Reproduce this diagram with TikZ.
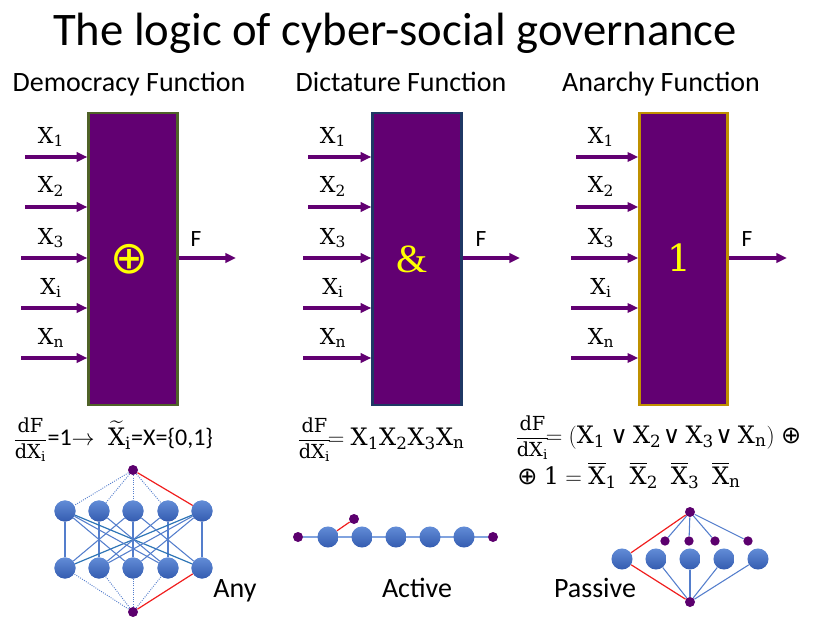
\documentclass[tikz,border=0pt]{standalone}
\usepackage{amsmath}
\usepackage[no-math]{fontspec}
\setmainfont{Carlito}
\newfontfamily\serifsym{Liberation Serif}
\newfontfamily\cmb{DejaVu Serif}
\newfontfamily\dvs{DejaVu Sans}
\usetikzlibrary{arrows.meta,calc}
\definecolor{fpurple}{RGB}{98,0,114}
\definecolor{dpurple}{RGB}{92,0,110}
\definecolor{bgreen}{RGB}{79,98,40}
\definecolor{bnavy}{RGB}{31,56,100}
\definecolor{bgold}{RGB}{191,144,0}
\definecolor{nbluel}{RGB}{98,140,215}
\definecolor{nblued}{RGB}{52,92,176}
\definecolor{eblue}{RGB}{84,126,204}
\definecolor{eteal}{RGB}{46,117,182}
\definecolor{ered}{RGB}{240,30,30}
\definecolor{fyellow}{RGB}{255,255,0}
\newcommand{\sv}[1]{\text{\cmb #1}}
\newcommand{\vX}[1]{\sv{X}_{\sv{#1}}}
\newcommand{\bX}[1]{\overline{\sv{X}}_{\sv{#1}}}
\newcommand{\myor}{\mathbin{\text{\dvs ∨}}}
\newcommand{\myxor}{\mathbin{\text{\dvs ⊕}}}
\newcommand{\dfx}{{\fontsize{14.5}{14.5}\selectfont$\dfrac{\sv{dF}}{\sv{dX}_{\sv{i}}}$}}
\tikzset{
  fbox/.style={draw, line width=2pt, fill=fpurple, minimum width=66.5pt, minimum height=219pt, inner sep=0pt},
  inarr/.style={draw=fpurple, line width=2.3pt, -{Triangle[length=8pt,width=7pt]}},
  xlab/.style={anchor=base, font=\fontsize{16.5}{20}\selectfont, inner sep=0pt},
  flab/.style={anchor=base, font=\fontsize{17.5}{20}\selectfont, inner sep=0pt},
  head/.style={anchor=base, font=\fontsize{21}{24}\selectfont, inner sep=0pt},
  gsym/.style={text=fyellow, inner sep=0pt},
  bnode/.style={circle, minimum size=15.8pt, inner sep=0pt, top color=nbluel, bottom color=nblued},
  pdot/.style={circle, minimum size=7.5pt, inner sep=0pt, fill=dpurple},
  pdots/.style={circle, minimum size=7pt, inner sep=0pt, fill=dpurple},
  eb/.style={draw=eblue, line width=0.8pt},
  et/.style={draw=eteal, line width=0.9pt},
  ed/.style={draw=eblue, line width=0.7pt, densely dotted},
  er/.style={draw=ered, line width=0.9pt},
  form/.style={anchor=base west, font=\fontsize{18}{22}\selectfont, inner sep=0pt},
  glab/.style={anchor=base, font=\fontsize{21}{24}\selectfont, inner sep=0pt}
}
\begin{document}
\begin{tikzpicture}[x=0.75pt,y=-0.75pt]
\useasboundingbox (0,0) rectangle (815,617);
% title and headings
\node[anchor=base, font=\fontsize{35}{40}\selectfont, inner sep=0pt] (title) at (395,46) {The logic of cyber-social governance};
\node[head] (h1) at (129,92) {Democracy Function};
\node[head] (h2) at (401,92) {Dictature Function};
\node[head] (h3) at (661,92) {Anarchy Function};
% boxes
\node[fbox, draw=bgreen] (b1) at (133,259) {};
\node[fbox, draw=bnavy] (b2) at (417,259) {};
\node[fbox, draw=bgold, minimum width=66pt] (b3) at (683.5,259) {};
\node[gsym, font=\fontsize{34}{34}\selectfont\dvs] (s1) at (129,259) {⊕};
\node[gsym, font=\fontsize{30}{30}\selectfont\serifsym] (s2) at (412,259) {\&};
\node[gsym, font=\fontsize{28}{28}\selectfont\cmb] (s3) at (679,258) {1};
% inputs
\foreach \p/\xa/\xb/\xl in {1/25/21/51, 2/308/303/333, 3/576/571/601}{
  \coordinate (i\p a) at (\xa,157);
  \coordinate (i\p b) at (\xa,207);
  \coordinate (i\p c) at (\xb,258);
  \coordinate (i\p d) at (\xb,308);
  \coordinate (i\p e) at (\xb,358);
  \foreach \r in {a,b,c,d,e}{
    \draw[inarr] (i\p\r) -- (i\p\r -| b\p.west);
  }
  \node[xlab] (x\p a) at (\xl,143) {$\vX{1}$};
  \node[xlab] (x\p b) at (\xl,193) {$\vX{2}$};
  \node[xlab] (x\p c) at (\xl,244) {$\vX{3}$};
  \node[xlab] (x\p d) at (\xl,294) {$\vX{i}$};
  \node[xlab] (x\p e) at (\xl,344) {$\vX{n}$};
}
% outputs
\coordinate (o1) at (236,258);
\coordinate (o2) at (520,258);
\coordinate (o3) at (787,258);
\draw[inarr] (b1.east |- o1) -- (o1);
\draw[inarr] (b2.east |- o2) -- (o2);
\draw[inarr] (b3.east |- o3) -- (o3);
\node[flab] (f1) at (196,247) {F};
\node[flab] (f2) at (481,247) {F};
\node[flab] (f3) at (747,247) {F};
% formulas
\node[form] (fm1) at (13,445) {\dfx=1$\rightarrow$\;\;$\widetilde{\sv{X}}_{\sv{i}}$=X=\{0,1\}};
\node[form] (fm2) at (297,445) {\dfx$\!= \vX{1}\vX{2}\vX{3}\vX{n}$};
\node[form] (fm3) at (515,443) {\dfx$\!= (\vX{1} \myor \vX{2}\!\myor \vX{3}\!\myor \vX{n})\;\myxor$};
\node[form] (fm4) at (517,484) {$\myxor\; \sv{1} = \bX{1}\;\;\bX{2}\;\;\bX{3}\;\;\bX{n}$};
% graph 1 (Any)
\node[pdot] (g1t) at (133,470) {};
\node[pdot] (g1b) at (133,612) {};
\foreach \i/\x in {1/65,2/99,3/133,4/168,5/202}{
  \node[bnode] (u\i) at (\x,511) {};
  \node[bnode] (l\i) at (\x,568) {};
}
\foreach \i in {1,2,3,4}{
  \draw[ed] (g1t) -- (u\i);
  \draw[ed] (g1b) -- (l\i);
}
\draw[er] (g1t) -- (u5);
\draw[er] (g1b) -- (l5);
\foreach \i in {1,...,5}{ \draw[eb] (u\i) -- (l\i); }
\draw[et] (u1) -- (l5);
\draw[et] (u5) -- (l1);
\foreach \a/\b in {1/3,1/4,2/4,3/1,3/5,4/2,5/2,5/3}{ \draw[eb] (u\a) -- (l\b); }
\foreach \i/\x in {1/65,2/99,3/133,4/168,5/202}{
  \node[bnode] at (\x,511) {};
  \node[bnode] at (\x,568) {};
}
\node[glab] (any) at (235,597) {Any};
% graph 2 (Active)
\node[pdot] (g2l) at (298,537) {};
\node[pdot] (g2r) at (493,537) {};
\node[pdot] (g2s) at (354,519) {};
\draw[draw=nbluel!80, line width=1pt] (g2l) -- (g2r);
\foreach \i/\x in {1/328,2/362,3/396,4/430,5/464}{
  \node[bnode] (m\i) at (\x,537) {};
}
\draw[er] (m1) -- (g2s);
\node[glab] (act) at (417,597) {Active};
% graph 3 (Passive)
\node[pdot] (g3t) at (690,512) {};
\node[pdot] (g3b) at (690,602) {};
\foreach \i/\x in {1/665,2/689,3/715,4/748}{
  \node[pdots] (q\i) at (\x,541) {};
  \draw[eb] (g3t) -- (q\i);
}
\foreach \i/\x in {1/622,2/656,3/690,4/724,5/758}{
  \node[bnode] (c\i) at (\x,559) {};
}
\draw[er] (g3t) -- (c1);
\draw[er] (g3b) -- (c1);
\foreach \i in {2,3,4,5}{ \draw[eb] (g3b) -- (c\i); }
\node[glab] (pas) at (595,597) {Passive};
\end{tikzpicture}
\end{document}
